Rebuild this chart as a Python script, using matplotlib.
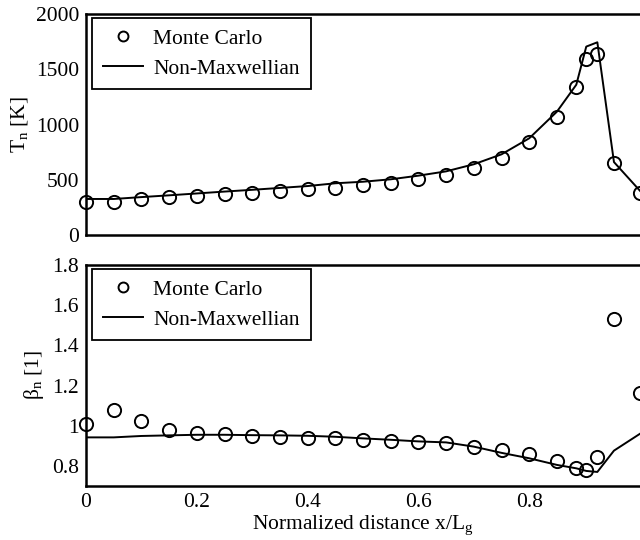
import matplotlib
matplotlib.use("Agg")
import matplotlib.pyplot as plt
from matplotlib.ticker import FixedLocator

plt.rcParams['font.family'] = ['Liberation Serif', 'DejaVu Serif']
plt.rcParams['mathtext.fontset'] = 'custom'
plt.rcParams['mathtext.rm'] = 'Liberation Serif'
plt.rcParams['mathtext.it'] = 'Liberation Serif:italic'
plt.rcParams['font.size'] = 15.5

# Data
x = [0, 0.05, 0.1, 0.15, 0.2, 0.25, 0.3, 0.35, 0.4, 0.45, 0.5, 0.55, 0.6,
     0.65, 0.7, 0.75, 0.8, 0.85, 0.885, 0.903, 0.923, 0.953, 1.0]
T_mc = [296, 296, 326, 341, 356, 368, 383, 395, 413, 423, 452, 473, 507,
        546, 606, 700, 845, 1071, 1342, 1590, 1635, 649, 383]
T_nm = [326, 326, 343, 359, 376, 393, 409, 426, 443, 468, 482, 504, 537,
        576, 640, 730, 875, 1116, 1360, 1705, 1744, 660, 400]
b_mc = [1.008, 1.078, 1.022, 0.977, 0.964, 0.957, 0.950, 0.944, 0.937, 0.937,
        0.929, 0.924, 0.917, 0.912, 0.894, 0.879, 0.858, 0.824, 0.791, 0.778,
        0.843, 1.529, 1.161]
b_nm = [0.942, 0.942, 0.949, 0.952, 0.955, 0.955, 0.953, 0.952, 0.950, 0.945,
        0.937, 0.930, 0.922, 0.917, 0.896, 0.865, 0.838, 0.805, 0.788, 0.775,
        0.770, 0.876, 0.960]

xticks = [0, 0.2, 0.4, 0.6, 0.8]
T_ticks = [0, 500, 1000, 1500, 2000]
b_ticks = [0.8, 1.0, 1.2, 1.4, 1.6, 1.8]
b_ticklabels = ['0.8', '1', '1.2', '1.4', '1.6', '1.8']

fig = plt.figure(figsize=(6.4, 5.4), dpi=100)
ax1 = fig.add_axes([86 / 640, 1 - 235 / 540, 554 / 640, 221 / 540])
ax2 = fig.add_axes([86 / 640, 1 - 486 / 540, 554 / 640, 221 / 540])

for ax, mc, nm in [(ax1, T_mc, T_nm), (ax2, b_mc, b_nm)]:
    ax.plot(x, nm, color='black', lw=1.4, label='Non-Maxwellian', zorder=2)
    ax.plot(x, mc, 'o', mfc='none', mec='black', mew=1.4, ms=9.5,
            label='Monte Carlo', clip_on=False, zorder=3)
    ax.set_xlim(0, 1.0)
    ax.spines['right'].set_visible(False)
    for s in ['left', 'bottom', 'top']:
        ax.spines[s].set_linewidth(1.8)
    ax.tick_params(length=0, pad=5)
    h, l = ax.get_legend_handles_labels()
    leg = ax.legend(h[::-1], l[::-1], loc='upper left',
                    bbox_to_anchor=(6 / 554, 1 - 4 / 221), borderaxespad=0,
                    fancybox=False, framealpha=1, edgecolor='black',
                    handlelength=1.85, labelspacing=0.45, markerscale=0.75,
                    handletextpad=0.5, borderpad=0.5)
    leg.get_frame().set_linewidth(1.3)

ax1.set_ylim(0, 2000)
ax1.yaxis.set_major_locator(FixedLocator(T_ticks))
ax1.xaxis.set_major_locator(FixedLocator(xticks))
ax1.set_xticklabels([])
ax1.set_ylabel(r'T$_\mathregular{n}$ [K]', labelpad=4)

ax2.set_ylim(0.7, 1.8)
ax2.yaxis.set_major_locator(FixedLocator(b_ticks))
ax2.set_yticklabels(b_ticklabels)
ax2.xaxis.set_major_locator(FixedLocator(xticks))
ax2.set_xticklabels(['0', '0.2', '0.4', '0.6', '0.8'])
ax2.set_ylabel(r'β$_\mathregular{n}$ [1]', labelpad=4)
ax2.set_xlabel(r'Normalized distance x/L$_\mathregular{g}$', labelpad=1)

fig.savefig('out.png', dpi=100)
